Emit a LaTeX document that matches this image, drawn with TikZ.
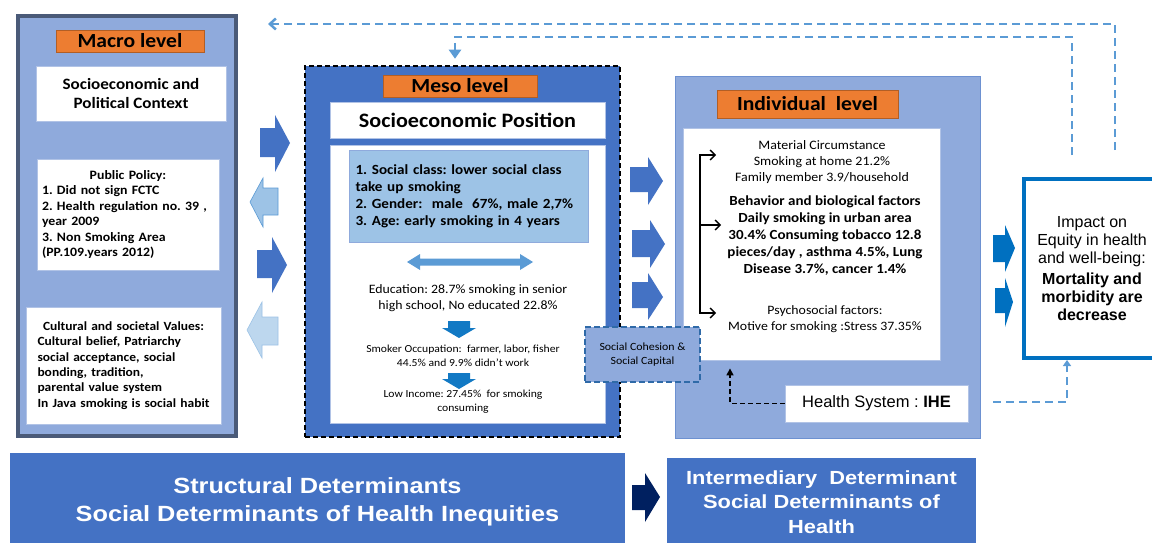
\documentclass[tikz,border=0pt]{standalone}
\usepackage{fontspec}
\setmainfont{Carlito}[FakeStretch=1.08]
\newfontfamily\arialf{Liberation Sans}
\newfontfamily\arialwide{Liberation Sans}[FakeStretch=1.15]
\usetikzlibrary{arrows.meta}

\definecolor{lblue}{HTML}{8FAADC}
\definecolor{mblue}{HTML}{4472C4}
\definecolor{sblue}{HTML}{5B9BD5}
\definecolor{pblue}{HTML}{9DC3E6}
\definecolor{vpblue}{HTML}{BDD7EE}
\definecolor{oblue}{HTML}{0070C0}
\definecolor{navy}{HTML}{002060}
\definecolor{orng}{HTML}{ED7D31}
\definecolor{slate}{HTML}{4A5A78}
\definecolor{cdash}{HTML}{2F6AA8}

\begin{document}
\frenchspacing
\begin{tikzpicture}[x=1pt, y=-1pt,
  lvl/.style={fill=orng, draw=orng!75!black, line width=0.8pt, inner sep=0pt,
    font=\fontsize{20}{24}\selectfont\bfseries},
  wbox/.style={fill=white, draw=lblue!70!white, line width=0.8pt, inner sep=0pt},
  fb/.style={sblue, line width=2.5pt, dash pattern=on 8pt off 5pt},
  darkarrow/.style={fill=mblue},
  lightarrow/.style={fill=pblue, draw=sblue, line width=0.6pt},
  bracket/.style={black, line width=1.4pt},
  bottombox/.style={fill=mblue, inner sep=0pt, align=center, text=white}]
  \useasboundingbox (0,0) rectangle (1152,543);
  \clip (0,0) rectangle (1152,543);
  \fill[white] (0,0) rectangle (1152,543);

  % Macro level
  \node[fill=lblue, draw=slate, line width=4pt, minimum width=218, minimum height=420,
    inner sep=0pt] (macro) at (127,226) {};
  \node[lvl, minimum width=148, minimum height=22] (macrolbl) at (130,41) {Macro level};
  \node[wbox, minimum width=190, minimum height=55, align=center,
    font=\fontsize{15.8}{19.5}\selectfont\bfseries] (context) at (131,93.5)
    {Socioeconomic and\\Political Context};
  \node[wbox, minimum width=182, minimum height=111, text width=172, align=left,
    font=\fontsize{12.8}{15.5}\selectfont\bfseries] (policy) at (128,214.5)
    {{\centering Public Policy:\par}
     1. Did not sign FCTC\\
     2. Health regulation no. 39 ,\\
     year 2009\\
     3. Non Smoking Area\\
     (PP.109.years 2012)};
  \node[wbox, minimum width=195, minimum height=117, text width=172, align=left,
    font=\fontsize{12.5}{15.4}\selectfont\bfseries] (culture) at (123.5,365.5)
    {{\centering Cultural and societal Values:\par}
     Cultural belief, Patriarchy\\
     social acceptance, social\\
     bonding, tradition,\\
     parental value system\\
     In Java smoking is social habit};

  % Arrows between macro and meso
  \fill[darkarrow] (260,128) -- (275,128) -- (275,115) -- (290,143) -- (275,172) -- (275,157) -- (260,157) -- cycle;
  \filldraw[lightarrow] (278,188) -- (263,188) -- (263,178) -- (250,202) -- (263,227) -- (263,215) -- (278,215) -- cycle;
  \fill[darkarrow] (257,250) -- (272,250) -- (272,237) -- (287,265) -- (272,293) -- (272,278) -- (257,278) -- cycle;
  \filldraw[lightarrow, fill=vpblue, draw=pblue] (278,317) -- (262,317) -- (262,302) -- (247,330) -- (262,358) -- (262,345) -- (278,345) -- cycle;

  % Meso level
  \node[fill=mblue, draw=black, line width=2.5pt, dash pattern=on 5pt off 3pt,
    minimum width=315, minimum height=371, inner sep=0pt] (meso) at (462.5,251.5) {};
  \node[lvl, minimum width=154, minimum height=22] (mesolbl) at (460,86) {Meso level};
  \node[wbox, minimum width=275, minimum height=36,
    font=\fontsize{20.5}{24}\selectfont\bfseries] (seppos) at (467.5,120) {Socioeconomic Position};
  \node[wbox, minimum width=275, minimum height=278] (sepbox) at (467.5,284) {};
  \node[fill=pblue, draw=lblue, line width=1pt, minimum width=239, minimum height=92,
    inner sep=0pt, text width=226, align=left,
    font=\fontsize{14}{17}\selectfont\bfseries] (classbox) at (468.5,196)
    {1. Social class: lower social class\\
     take up smoking\\
     2. Gender:\ \ male\ \ 67\%, male 2,7\%\\
     3. Age: early smoking in 4 years};
  % Double arrow
  \fill[sblue] (407,262) -- (420,254) -- (420,258.5) -- (520,258.5) -- (520,254) -- (533,262)
    -- (520,270) -- (520,265.5) -- (420,265.5) -- (420,270) -- cycle;
  \node[align=center, font=\fontsize{12.8}{15.5}\selectfont] (edu) at (468,298)
    {Education: 28.7\% smoking in senior\\high school, No educated 22.8\%};
  \fill[oblue!80!sblue] (448,321) -- (470,321) -- (470,328) -- (476,328) -- (459,338) -- (442,328) -- (448,328) -- cycle;
  \node[align=center, font=\fontsize{10.8}{13.5}\selectfont] (occup) at (463,356)
    {Smoker Occupation:\ \ farmer, labor, fisher\\44.5\% and 9.9\% didn't work};
  \fill[oblue!80!sblue] (448,373) -- (470,373) -- (470,379) -- (476,379) -- (459,389) -- (442,379) -- (448,379) -- cycle;
  \node[align=center, font=\fontsize{10.8}{14}\selectfont] (income) at (463,402)
    {Low Income: 27.45\%\ \ for smoking\\consuming};

  % Arrows between meso and individual
  \fill[darkarrow] (630,167) -- (648,167) -- (648,157) -- (663,181) -- (648,205) -- (648,192) -- (630,192) -- cycle;
  \fill[darkarrow] (632,230) -- (650,230) -- (650,220) -- (665,244) -- (650,268) -- (650,257) -- (632,257) -- cycle;
  \fill[darkarrow] (632,282) -- (648,282) -- (648,273) -- (663,297) -- (648,320) -- (648,308) -- (632,308) -- cycle;

  % Individual level
  \node[fill=lblue, draw=mblue!45!lblue, line width=1pt, minimum width=305, minimum height=361,
    inner sep=0pt] (indiv) at (827.5,257.5) {};
  \node[lvl, minimum width=181, minimum height=28] (indivlbl) at (807.5,104) {Individual\ \ level};
  \node[wbox, minimum width=257, minimum height=232] (indbox) at (811.5,244) {};
  \node[align=center, font=\fontsize{12.9}{16}\selectfont] (material) at (822,162)
    {Material Circumstance\\Smoking at home 21.2\%\\Family member 3.9/household};
  \node[align=center, font=\fontsize{13.9}{17}\selectfont\bfseries] (behavior) at (825,236)
    {Behavior and biological factors\\Daily smoking in urban area\\30.4\% Consuming tobacco 12.8\\
     pieces/day , asthma 4.5\%, Lung\\Disease 3.7\%, cancer 1.4\%};
  \node[align=center, font=\fontsize{12.8}{16}\selectfont] (psycho) at (825,319)
    {Psychosocial factors:\\Motive for smoking :Stress 37.35\%};
  % Bracket
  \coordinate (brTop) at (700,155);
  \coordinate (brMid) at (700,225);
  \coordinate (brBot) at (700,313);
  \draw[bracket, {Straight Barb[length=5pt,width=10pt]}-{Straight Barb[length=5pt,width=10pt]}]
    ([xshift=16pt]brTop) -- (brTop) -- (brBot) -- ([xshift=16pt]brBot);
  \draw[bracket, -{Straight Barb[length=5pt,width=10pt]}] (brMid) -- ([xshift=21pt]brMid);

  \node[fill=lblue, draw=cdash, line width=2pt, dash pattern=on 6pt off 3pt,
    minimum width=115, minimum height=55, inner sep=0pt, align=center,
    font=\fontsize{11}{14}\selectfont] (cohesion) at (642.5,354.5)
    {Social Cohesion \&\\Social Capital};
  \node[wbox, minimum width=183, minimum height=37,
    font=\arialf\fontsize{16.5}{20}\selectfont] (health) at (876.5,403.5)
    {Health System : \textbf{IHE}};
  \draw[black, line width=1.5pt, dash pattern=on 5pt off 3pt, -{Triangle[length=7pt,width=7pt]}]
    (health.west) -| ([xshift=-81.5pt,yshift=-8pt]indbox.south);

  % Arrows between individual and impact
  \fill[oblue] (993,235) -- (1005,235) -- (1005,225) -- (1015,248) -- (1005,272) -- (1005,262) -- (993,262) -- cycle;
  \fill[oblue] (995,288) -- (1005,288) -- (1005,278) -- (1013,302) -- (1005,327) -- (1005,313) -- (995,313) -- cycle;

  % Impact
  \node[fill=white, draw=oblue, line width=4pt, minimum width=136, minimum height=179,
    inner sep=0pt, align=center, font=\arialf\fontsize{16}{18}\selectfont] (impact) at (1092,268.5)
    {Impact on\\Equity in health\\and well-being:\\[3pt]
     \textbf{Mortality and}\\\textbf{morbidity are}\\\textbf{decrease}};

  % Feedback loops
  \coordinate (fbA) at (1115,150);
  \coordinate (fbAend) at (268,24);
  \draw[fb, -{Straight Barb[length=6pt,width=11pt]}] (fbA) |- (fbAend);
  \coordinate (fbB) at (1072,155);
  \coordinate (fbBturn) at (455,37);
  \draw[fb, -{Triangle[length=9pt,width=12pt]}] (fbB) |- (fbBturn) -- ([xshift=-7.5pt,yshift=6pt]meso.north);
  \coordinate (fbC) at (993,402);
  \draw[fb, line width=2pt, -{Triangle[length=6pt,width=8pt]}] (fbC) -| ([xshift=-25pt]impact.south);

  % Bottom row
  \node[bottombox, minimum width=615, minimum height=98,
    font=\arialwide\fontsize{22}{28}\selectfont\bfseries] (structural) at (317.5,502)
    {Structural Determinants\\Social Determinants of Health Inequities};
  \node[bottombox, minimum width=309, minimum height=88,
    font=\arialwide\fontsize{19}{24.5}\selectfont\bfseries] (intermed) at (821.5,502)
    {Intermediary\ \ Determinant\\Social Determinants of\\Health};
  \fill[navy] (632,485) -- (645,485) -- (645,473) -- (660,497) -- (645,522) -- (645,510) -- (632,510) -- cycle;
\end{tikzpicture}
\end{document}
